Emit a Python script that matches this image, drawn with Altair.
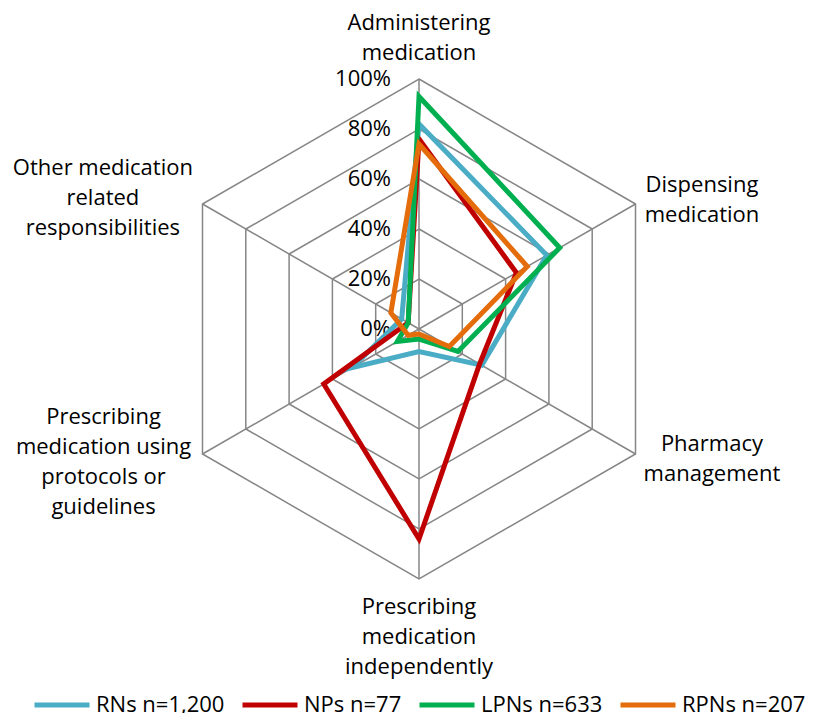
import math
import altair as alt
import pandas as pd

# ---------------- data ----------------
categories = [
    "Administering medication",
    "Dispensing medication",
    "Pharmacy management",
    "Prescribing medication independently",
    "Prescribing medication using protocols or guidelines",
    "Other medication related responsibilities",
]
category_text = [
    "Administering\nmedication",
    "Dispensing\nmedication",
    "Pharmacy\nmanagement",
    "Prescribing\nmedication\nindependently",
    "Prescribing\nmedication using\nprotocols or\nguidelines",
    "Other medication\nrelated\nresponsibilities",
]
series_names = ["RNs n=1,200", "NPs n=77", "LPNs n=633", "RPNs n=207"]
rns = [0.82, 0.59, 0.29, 0.09, 0.31, 0.08]
nps = [0.76, 0.45, 0.28, 0.84, 0.44, 0.05]
lpns = [0.93, 0.65, 0.18, 0.04, 0.10, 0.05]
rpns = [0.74, 0.50, 0.14, 0.02, 0.05, 0.13]
tick_values = [0.0, 0.2, 0.4, 0.6, 0.8, 1.0]
tick_labels = ["0%", "20%", "40%", "60%", "80%", "100%"]

# ---------------- styles / layout ----------------
series_colors = ["#4BACC6", "#C00000", "#00B050", "#E46C0A"]
GRID = "#868686"
FONT = "Open Sans"
PX = 250.0            # pixels per 100%
W, H = 804, 705
CX, CY = 411, 321     # centre of the radar inside the view (pixels)
# anchor of each category label (first text line), as factors of sin/cos of its angle
label_kx = [0.0, 1.307, 1.353, 0.0, 1.457, 1.460]
label_ky = [1.224, 1.152, 0.920, 1.112, 0.704, 1.288]

n = len(categories)
step = 2 * math.pi / n

rows = []
for s, vals in zip(series_names, [rns, nps, lpns, rpns]):
    for k in range(n + 2):
        c = k % n
        rows.append({"series": s, "idx": k, "category": categories[c],
                     "value": vals[c], "angle": c * step})
series_df = pd.DataFrame(rows)

ring_rows = []
for r in tick_values[1:]:
    for k in range(n + 2):
        ring_rows.append({"ring": r, "idx": k, "value": r, "angle": (k % n) * step})
ring_df = pd.DataFrame(ring_rows)

spoke_df = pd.DataFrame({"category": categories,
                         "angle": [i * step for i in range(n)],
                         "r": [1.0] * n})
tick_df = pd.DataFrame({"value": tick_values, "label": tick_labels})
label_df = pd.DataFrame({"text": category_text,
                         "angle": [i * step for i in range(n)],
                         "kx": label_kx, "ky": label_ky})

xs = alt.Scale(domain=[-CX / PX, (W - CX) / PX], nice=False, zero=False)
ys = alt.Scale(domain=[-(H - CY) / PX, CY / PX], nice=False, zero=False)

rings = alt.Chart(ring_df).transform_calculate(
    x="datum.value * sin(datum.angle)", y="datum.value * cos(datum.angle)"
).mark_line(color=GRID, strokeWidth=1.5, strokeJoin="miter").encode(
    x=alt.X("x:Q", scale=xs, axis=None),
    y=alt.Y("y:Q", scale=ys, axis=None),
    detail="ring:N",
    order="idx:Q",
)

spokes = alt.Chart(spoke_df).transform_calculate(
    x0="0", y0="0",
    x1="datum.r * sin(datum.angle)", y1="datum.r * cos(datum.angle)"
).mark_rule(color=GRID, strokeWidth=1.5).encode(
    x=alt.X("x0:Q", scale=xs, axis=None),
    y=alt.Y("y0:Q", scale=ys, axis=None),
    x2="x1:Q", y2="y1:Q",
)

ticks = alt.Chart(tick_df).transform_calculate(x0="0").mark_text(
    align="right", baseline="middle", dx=-28, font=FONT, fontSize=22, color="#000000"
).encode(
    x=alt.X("x0:Q", scale=xs, axis=None),
    y=alt.Y("value:Q", scale=ys, axis=None),
    text="label:N",
)

lines = alt.Chart(series_df).transform_calculate(
    x="datum.value * sin(datum.angle)", y="datum.value * cos(datum.angle)"
).mark_line(strokeWidth=5, strokeJoin="miter").encode(
    x=alt.X("x:Q", scale=xs, axis=None),
    y=alt.Y("y:Q", scale=ys, axis=None),
    color=alt.Color("series:N",
                    scale=alt.Scale(domain=series_names, range=series_colors),
                    legend=alt.Legend(orient="none", legendX=24, legendY=667,
                                      direction="horizontal", columns=4, title=None,
                                      symbolType="stroke", symbolSize=3025,
                                      symbolStrokeWidth=5, labelFont=FONT,
                                      labelFontSize=22, labelColor="#000000",
                                      labelOffset=4, columnPadding=7, padding=0,
                                      labelLimit=300)),
    order="idx:Q",
)

labels = alt.Chart(label_df).transform_calculate(
    x="datum.kx * sin(datum.angle)", y="datum.ky * cos(datum.angle)"
).mark_text(align="center", baseline="middle", lineBreak="\n", lineHeight=30,
            font=FONT, fontSize=22, color="#000000").encode(
    x=alt.X("x:Q", scale=xs, axis=None),
    y=alt.Y("y:Q", scale=ys, axis=None),
    text="text:N",
)

chart = alt.layer(rings, spokes, ticks, lines, labels).properties(
    width=W, height=H, padding=0, autosize=alt.AutoSizeParams(type="none")
).configure_view(stroke=None)

chart.save("out.html", embed_options={"renderer": "svg", "actions": False})
